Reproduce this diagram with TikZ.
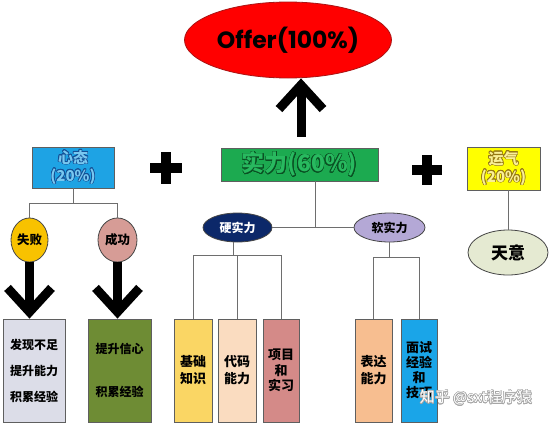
\documentclass[tikz,border=0pt]{standalone}
\usepackage{fontspec}
\setmainfont{Noto Sans CJK SC}
\newfontfamily\offerfont{Poppins}
\usepackage{xcolor}
\usepackage{contour}
\usepackage{tikz}
\usetikzlibrary{arrows.meta,shapes.geometric,positioning,calc}
\definecolor{offerred}{RGB}{255,0,0}
\definecolor{offerline}{RGB}{170,20,20}
\definecolor{xtblue}{RGB}{30,163,228}
\definecolor{xtletter}{RGB}{120,200,240}
\definecolor{xtedge}{RGB}{20,80,150}
\definecolor{slgreen}{RGB}{28,170,80}
\definecolor{slletter}{RGB}{40,185,95}
\definecolor{sledge}{RGB}{10,80,35}
\definecolor{yqyellow}{RGB}{255,255,0}
\definecolor{yqletter}{RGB}{250,240,150}
\definecolor{yqedge}{RGB}{150,120,20}
\definecolor{sbgold}{RGB}{248,194,0}
\definecolor{cgpink}{RGB}{214,156,150}
\definecolor{ynavy}{RGB}{12,40,105}
\definecolor{rlav}{RGB}{180,168,214}
\definecolor{tygray}{RGB}{229,234,210}
\definecolor{fxgray}{RGB}{220,221,232}
\definecolor{tsolive}{RGB}{110,140,52}
\definecolor{jcyellow}{RGB}{250,214,100}
\definecolor{dmpeach}{RGB}{250,220,192}
\definecolor{xmrose}{RGB}{212,138,136}
\definecolor{bdorange}{RGB}{247,190,144}
\definecolor{msblue}{RGB}{26,165,232}
\definecolor{linkgray}{RGB}{110,110,110}
\definecolor{cardline}{RGB}{95,95,95}
\definecolor{blobline}{RGB}{70,70,70}
\contourlength{0.6pt}
\newcommand{\hollow}[3]{\textcolor{#2}{\contour{#1}{#3}}}

\begin{document}
\begin{tikzpicture}[x=1pt,y=-1pt,
    link/.style={draw=linkgray,line width=0.9pt},
    fatarrow/.style={line width=9pt,-{Straight Barb[length=24pt,width=44pt,sharp]}},
    plus/.style={line width=10pt},
    card/.style={draw=cardline,line width=0.8pt,minimum height=103pt,inner sep=0pt,align=center},
    blob/.style={ellipse,draw=blobline,line width=0.8pt,inner sep=0pt},
    head/.style={draw=cardline,line width=0.8pt,inner sep=0pt,align=center}]
    \fill[white] (0,0) rectangle (554,423);
    \useasboundingbox (0,0) rectangle (554,423);

    % top goal
    \node[blob,draw=offerline,fill=offerred,minimum width=207pt,minimum height=76pt,
        font=\offerfont\bfseries\fontsize{23.5}{26}\selectfont] (offer) at (288,40) {Offer(100\%)};

    % three parts
    \node[head,fill=xtblue,minimum width=82pt,minimum height=41pt,font=\bfseries\fontsize{15}{18}\selectfont]
        (xintai) at (73,167.5) {\hollow{xtedge}{xtletter}{心态}\\\hollow{xtedge}{xtletter}{(20\%)}};
    \node[head,fill=slgreen,minimum width=157pt,minimum height=33pt,font=\bfseries\fontsize{23}{26}\selectfont]
        (shili) at (299.5,164.5) {\hollow{sledge}{slletter}{实力(60\%)}};
    \node[head,fill=yqyellow,minimum width=73pt,minimum height=43pt,font=\bfseries\fontsize{15}{18}\selectfont]
        (yunqi) at (503.5,168.5) {\hollow{yqedge}{yqletter}{运气}\\\hollow{yqedge}{yqletter}{(20\%)}};

    \draw[plus] (150,168) -- (182,168) (166,152) -- (166,184);
    \draw[plus] (412,170) -- (442,170) (427,155) -- (427,185);

    % second level
    \node[blob,fill=sbgold,minimum width=37pt,minimum height=44pt,font=\bfseries\fontsize{12.5}{14}\selectfont]
        (shibai) at (29.5,240) {失败};
    \node[blob,fill=cgpink,minimum width=39pt,minimum height=44pt,font=\bfseries\fontsize{12.5}{14}\selectfont]
        (chenggong) at (117.5,240) {成功};
    \node[blob,fill=ynavy,text=white,minimum width=69pt,minimum height=29pt,font=\bfseries\fontsize{12}{14}\selectfont]
        (ying) at (237.5,227.5) {硬实力};
    \node[blob,fill=rlav,minimum width=71pt,minimum height=29pt,font=\bfseries\fontsize{12}{14}\selectfont]
        (ruan) at (389.5,227.5) {软实力};
    \node[blob,fill=tygray,minimum width=80pt,minimum height=45pt,font=\bfseries\fontsize{17}{20}\selectfont]
        (tianyi) at (508,252.5) {天意};

    % bottom cards
    \node[card,fill=fxgray,minimum width=62pt,font=\bfseries\fontsize{12}{26}\selectfont]
        (faxian) at (34,370.5) {发现不足\\提升能力\\积累经验};
    \node[card,fill=tsolive,minimum width=63pt,font=\bfseries\fontsize{12}{43}\selectfont]
        (tisheng) at (119.5,370.5) {提升信心\\积累经验};
    \node[card,fill=jcyellow,minimum width=38pt,font=\bfseries\fontsize{13}{17}\selectfont]
        (jichu) at (193,370.5) {基础\\知识};
    \node[card,fill=dmpeach,minimum width=38pt,font=\bfseries\fontsize{13}{17}\selectfont]
        (daima) at (237,370.5) {代码\\能力};
    \node[card,fill=xmrose,minimum width=36pt,font=\bfseries\fontsize{13}{15.5}\selectfont]
        (xiangmu) at (281,370.5) {项目\\和\\实习};
    \node[card,fill=bdorange,minimum width=37pt,font=\bfseries\fontsize{13}{17}\selectfont]
        (biaoda) at (373.5,370.5) {表达\\能力};
    \node[card,fill=msblue,minimum width=36pt,font=\bfseries\fontsize{13}{15}\selectfont]
        (mianshi) at (419,370.5) {面试\\经验\\和\\技巧};

    \node[font=\fontsize{15}{15}\selectfont] (mark) at (476,398) {\textcolor{white}{\contour{gray!70}{知乎 @sxt程序猿}}};

    % connectors
    \draw[link] (xintai.south) -- ++(0,15) coordinate (xtjoin);
    \draw[link] (shibai.north) |- (xtjoin) -| (chenggong.north);
    \coordinate (slfoot) at ([xshift=16pt]shili.south);
    \draw[link] (slfoot) -- (slfoot |- ying.east);
    \draw[link] (ying.east) -- (ruan.west);
    \coordinate (yfoot) at ([xshift=-4pt]ying.south);
    \draw[link] (yfoot) -- ++(0,13) coordinate (yjoin);
    \draw[link] (jichu.north) |- (yjoin) -| (xiangmu.north);
    \draw[link] (daima.north) -- (daima.north |- yjoin);
    \draw[link] (ruan.south) -- ++(0,15) coordinate (rjoin);
    \draw[link] (biaoda.north) |- (rjoin) -| (mianshi.north);
    \draw[link] (yunqi.south -| tianyi.north) -- (tianyi.north);

    % big arrows
    \coordinate (upfoot) at ([xshift=1.5pt,yshift=11pt]shili.north);
    \draw[fatarrow] (upfoot) -- (upfoot |- offer.south);
    \draw[fatarrow] (shibai.south) -- (shibai.south |- faxian.north);
    \draw[fatarrow] (chenggong.south) -- (chenggong.south |- tisheng.north);
\end{tikzpicture}
\end{document}
